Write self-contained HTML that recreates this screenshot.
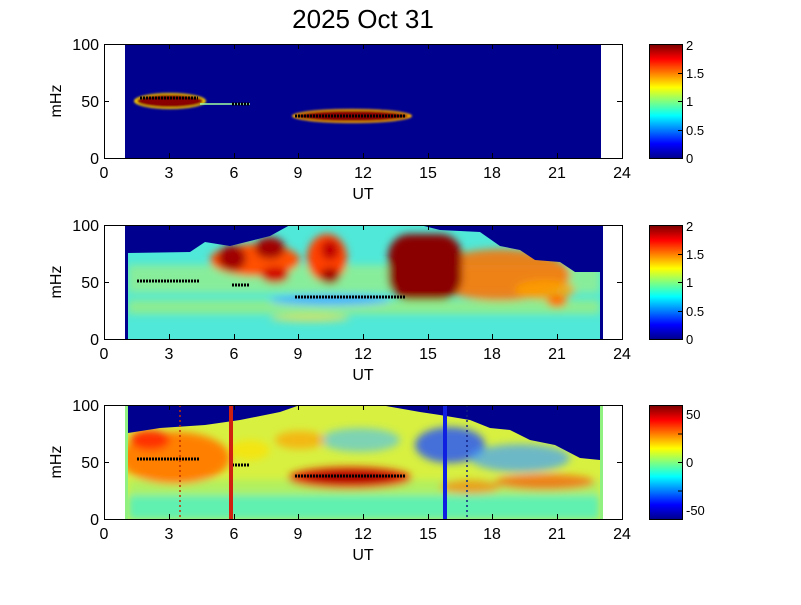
<!DOCTYPE html>
<html><head><style>
body{margin:0;background:#fff;}
svg text{font-family:"Liberation Sans",Arial,sans-serif;}
</style></head><body>
<svg width="801" height="600" viewBox="0 0 801 600" xmlns="http://www.w3.org/2000/svg">
<defs>
<linearGradient id="jet" x1="0" y1="1" x2="0" y2="0">
<stop offset="0" stop-color="#00008f"/><stop offset="0.125" stop-color="#0000ff"/>
<stop offset="0.375" stop-color="#00ffff"/><stop offset="0.625" stop-color="#ffff00"/>
<stop offset="0.875" stop-color="#ff0000"/><stop offset="1" stop-color="#800000"/>
</linearGradient>
<filter id="b4"><feGaussianBlur stdDeviation="4"/></filter>
<filter id="b1"><feGaussianBlur stdDeviation="1"/></filter>
<clipPath id="c2"><rect x="128" y="225" width="472" height="114"/></clipPath>
<clipPath id="c3"><rect x="128" y="405" width="472" height="114"/></clipPath>
</defs>
<text x="363" y="28" font-size="26" text-anchor="middle">2025 Oct 31</text>

<!-- Panel 1 -->
<rect x="125" y="44" width="476" height="114" fill="#00008f"/>
<g filter="url(#b1)">
<ellipse cx="170" cy="101" rx="36" ry="8" fill="#ffd000"/>
<ellipse cx="170" cy="101" rx="33" ry="6.5" fill="#8a0000"/>
<ellipse cx="352" cy="116" rx="60" ry="7" fill="#ffb000"/>
<ellipse cx="352" cy="116" rx="56" ry="5.5" fill="#8a0000"/>
</g>
<line x1="200" y1="104" x2="250" y2="104" stroke="#a0ffa0" stroke-width="1.5"/>
<line x1="140" y1="98" x2="198" y2="98" stroke="#000" stroke-width="3" stroke-dasharray="2 1"/>
<line x1="232" y1="104" x2="250" y2="104" stroke="#000" stroke-width="3" stroke-dasharray="2 1"/>
<line x1="295" y1="116" x2="405" y2="116" stroke="#000" stroke-width="3" stroke-dasharray="2 1"/>

<!-- Panel 2 -->
<rect x="125" y="225" width="3" height="114" fill="#00008f"/>
<rect x="600" y="225" width="3" height="114" fill="#00008f"/>
<rect x="128" y="225" width="472" height="114" fill="#50e8d8"/>
<g clip-path="url(#c2)">
<g filter="url(#b4)">
<rect x="128" y="300" width="472" height="14" fill="#b8f060" opacity="0.6"/>
<rect x="128" y="265" width="472" height="28" fill="#a0f080" opacity="0.7"/>
<ellipse cx="255" cy="260" rx="45" ry="16" fill="#ff5000"/>
<ellipse cx="232" cy="258" rx="14" ry="13" fill="#a00000"/>
<ellipse cx="270" cy="248" rx="15" ry="11" fill="#a00000"/>
<ellipse cx="275" cy="275" rx="14" ry="8" fill="#d00000"/>
<ellipse cx="327" cy="258" rx="20" ry="24" fill="#ff4000"/>
<ellipse cx="330" cy="276" rx="10" ry="8" fill="#a00000"/>
<ellipse cx="330" cy="250" rx="9" ry="10" fill="#c00000"/>
<ellipse cx="500" cy="275" rx="70" ry="26" fill="#ff7000" opacity="0.85"/>
<ellipse cx="545" cy="290" rx="30" ry="10" fill="#ffa000" opacity="0.8"/>
<rect x="388" y="234" width="74" height="66" rx="22" fill="#8a0000"/>
<ellipse cx="557" cy="301" rx="10" ry="6" fill="#ff7000"/>
<ellipse cx="330" cy="300" rx="60" ry="5" fill="#40b0ff"/>
<ellipse cx="310" cy="318" rx="40" ry="4" fill="#ffe040" opacity="0.7"/>
</g>
<path d="M128 225 L128 253 L190 252 L205 242 L230 246 L270 236 L290 225 Z" fill="#00008f"/>
<path d="M395 225 L600 225 L600 272 L575 272 L560 262 L535 260 L520 250 L500 246 L480 232 L440 230 L420 225 Z" fill="#00008f"/>
</g>
<line x1="137" y1="281" x2="200" y2="281" stroke="#000" stroke-width="3" stroke-dasharray="2 1"/>
<line x1="232" y1="285" x2="250" y2="285" stroke="#000" stroke-width="3" stroke-dasharray="2 1"/>
<line x1="295" y1="297" x2="405" y2="297" stroke="#000" stroke-width="3" stroke-dasharray="2 1"/>

<!-- Panel 3 -->
<rect x="125" y="405" width="3" height="114" fill="#90f080"/>
<rect x="600" y="405" width="3" height="114" fill="#90f080"/>
<rect x="128" y="405" width="472" height="114" fill="#d8f040"/>
<g clip-path="url(#c3)">
<g filter="url(#b4)">
<rect x="128" y="495" width="472" height="25" fill="#60f0b0"/>
<rect x="128" y="480" width="472" height="15" fill="#b0f060"/>
<ellipse cx="175" cy="458" rx="55" ry="26" fill="#ff8000"/>
<ellipse cx="150" cy="440" rx="20" ry="10" fill="#ff3000"/>
<ellipse cx="350" cy="478" rx="62" ry="11" fill="#e02000"/>
<ellipse cx="350" cy="477" rx="45" ry="5" fill="#a00000"/>
<ellipse cx="360" cy="440" rx="40" ry="12" fill="#40c0ff" opacity="0.6"/>
<ellipse cx="450" cy="445" rx="35" ry="18" fill="#2050ff" opacity="0.8"/>
<ellipse cx="520" cy="458" rx="50" ry="14" fill="#40a0ff" opacity="0.7"/>
<ellipse cx="545" cy="482" rx="50" ry="8" fill="#ff5000" opacity="0.7"/>
<ellipse cx="470" cy="487" rx="30" ry="7" fill="#ff8000" opacity="0.7"/>
<ellipse cx="300" cy="440" rx="25" ry="9" fill="#ffa000" opacity="0.7"/>
<ellipse cx="250" cy="450" rx="20" ry="10" fill="#ffe000" opacity="0.7"/>
</g>
<path d="M128 405 L128 433 L160 428 L205 425 L240 420 L280 412 L300 405 Z" fill="#00008f"/>
<path d="M380 405 L600 405 L600 460 L580 458 L555 445 L530 440 L510 430 L490 428 L470 420 L440 415 L420 412 Z" fill="#00008f"/>
</g>
<line x1="137" y1="459" x2="200" y2="459" stroke="#000" stroke-width="3" stroke-dasharray="2 1"/>
<line x1="232" y1="465" x2="250" y2="465" stroke="#000" stroke-width="3" stroke-dasharray="2 1"/>
<line x1="295" y1="476" x2="405" y2="476" stroke="#000" stroke-width="3" stroke-dasharray="2 1"/>
<rect x="229" y="405" width="4" height="114" fill="#d02010"/>
<rect x="443" y="405" width="4" height="114" fill="#1020e0"/>
<line x1="180" y1="405" x2="180" y2="519" stroke="#c03000" stroke-width="1.5" stroke-dasharray="2 3"/>
<line x1="467" y1="405" x2="467" y2="519" stroke="#102080" stroke-width="1.5" stroke-dasharray="2 3"/>

<g stroke="#000" stroke-width="1" fill="none">
<rect x="104.5" y="44.5" width="518" height="114"/>
<rect x="104.5" y="225.5" width="518" height="114"/>
<rect x="104.5" y="405.5" width="518" height="114"/>
<rect x="649.5" y="44.5" width="33" height="114"/>
<rect x="649.5" y="225.5" width="33" height="114"/>
<rect x="649.5" y="405.5" width="33" height="114"/>
</g>
<rect x="650" y="45" width="32" height="113" fill="url(#jet)"/>
<rect x="650" y="226" width="32" height="113" fill="url(#jet)"/>
<rect x="650" y="406" width="32" height="113" fill="url(#jet)"/>
<g stroke="#000" stroke-width="1">
<path d="M104 101.5h5M622 101.5h-5M104 282.5h5M622 282.5h-5M104 462.5h5M622 462.5h-5"/>
<path d="M169.5 158v-5M234.5 158v-5M298.5 158v-5M363.5 158v-5M428.5 158v-5M492.5 158v-5M557.5 158v-5"/>
<path d="M169.5 44v5M234.5 44v5M298.5 44v5M363.5 44v5M428.5 44v5M492.5 44v5M557.5 44v5"/>
<path d="M169.5 339v-5M234.5 339v-5M298.5 339v-5M363.5 339v-5M428.5 339v-5M492.5 339v-5M557.5 339v-5"/>
<path d="M169.5 225v5M234.5 225v5M298.5 225v5M363.5 225v5M428.5 225v5M492.5 225v5M557.5 225v5"/>
<path d="M169.5 519v-5M234.5 519v-5M298.5 519v-5M363.5 519v-5M428.5 519v-5M492.5 519v-5M557.5 519v-5"/>
<path d="M169.5 405v5M234.5 405v5M298.5 405v5M363.5 405v5M428.5 405v5M492.5 405v5M557.5 405v5"/>
<path d="M678 73.5h4M678 101.5h4M678 130.5h4M678 254.5h4M678 282.5h4M678 311.5h4M678 434h4M678 462.5h4M678 491h4"/>
</g>
<g font-size="16" text-anchor="middle">
<text x="104" y="178">0</text><text x="169" y="178">3</text><text x="234" y="178">6</text><text x="298" y="178">9</text><text x="363" y="178">12</text><text x="428" y="178">15</text><text x="492" y="178">18</text><text x="557" y="178">21</text><text x="622" y="178">24</text>
<text x="363" y="199">UT</text>
<text x="104" y="359">0</text><text x="169" y="359">3</text><text x="234" y="359">6</text><text x="298" y="359">9</text><text x="363" y="359">12</text><text x="428" y="359">15</text><text x="492" y="359">18</text><text x="557" y="359">21</text><text x="622" y="359">24</text>
<text x="363" y="380">UT</text>
<text x="104" y="539">0</text><text x="169" y="539">3</text><text x="234" y="539">6</text><text x="298" y="539">9</text><text x="363" y="539">12</text><text x="428" y="539">15</text><text x="492" y="539">18</text><text x="557" y="539">21</text><text x="622" y="539">24</text>
<text x="363" y="560">UT</text>
</g>
<g font-size="16" text-anchor="end">
<text x="99" y="50">100</text><text x="99" y="107">50</text><text x="99" y="164">0</text>
<text x="99" y="231">100</text><text x="99" y="288">50</text><text x="99" y="345">0</text>
<text x="99" y="411">100</text><text x="99" y="468">50</text><text x="99" y="525">0</text>
</g>
<g font-size="16">
<text transform="translate(61 101) rotate(-90)" text-anchor="middle">mHz</text>
<text transform="translate(61 282) rotate(-90)" text-anchor="middle">mHz</text>
<text transform="translate(61 462) rotate(-90)" text-anchor="middle">mHz</text>
</g>
<g font-size="13">
<text x="686" y="50">2</text><text x="686" y="78">1.5</text><text x="686" y="106">1</text><text x="686" y="135">0.5</text><text x="686" y="163">0</text>
<text x="686" y="231">2</text><text x="686" y="259">1.5</text><text x="686" y="287">1</text><text x="686" y="316">0.5</text><text x="686" y="344">0</text>
<text x="686" y="419">50</text><text x="686" y="467">0</text><text x="686" y="515">-50</text>
</g>
</svg>
</body></html>
